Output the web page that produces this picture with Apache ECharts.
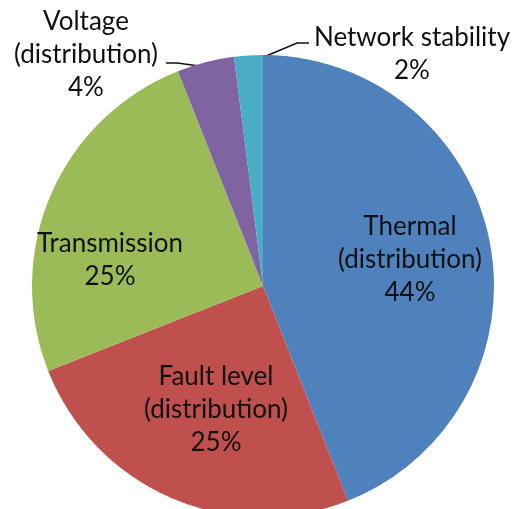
<!DOCTYPE html>
<html>
<head>
<meta charset="utf-8">
<script src="https://cdn.jsdelivr.net/npm/echarts@6/dist/echarts.min.js"></script>
<style>
html,body{margin:0;padding:0;background:#fff;}
#chart{width:517px;height:509px;}
</style>
</head>
<body>
<div id="chart"></div>
<script>
var categories = ['Thermal\n(distribution)', 'Fault level\n(distribution)', 'Transmission', 'Voltage\n(distribution)', 'Network stability'];
var shares = [44, 25, 25, 4, 2];
var colors = ['#4F81BD', '#C0504D', '#9BBB59', '#8064A2', '#4BACC6'];

// label anchor positions (centre of text block), and leader line points
var labelPos = [[410, 260], [216, 410], [110, 260], [86, 55], [412, 54]];
var leaderLines = {
  3: [[207, 67], [177, 63], [166, 63]],
  4: [[252, 62], [297, 43], [309, 43]]
};

var chart = echarts.init(document.getElementById('chart'), null, {renderer: 'canvas'});
var data = categories.map(function (c, i) {
  var outside = (i === 3 || i === 4);
  return {
    name: c,
    value: shares[i],
    itemStyle: {color: colors[i]},
    label: {position: outside ? 'outside' : 'inside'},
    labelLine: {show: outside}
  };
});

chart.setOption({
  animation: false,
  series: [{
    type: 'pie',
    center: [263, 286],
    radius: 231,
    startAngle: 90,
    clockwise: true,
    data: data,
    itemStyle: {borderWidth: 0},
    label: {
      show: true,
      formatter: function (p) { return p.name + '\n' + p.value + '%'; },
      fontFamily: 'Lato',
      fontSize: 26,
      lineHeight: 33,
      color: '#111',
      align: 'center',
      width: 260,
      overflow: 'none'
    },
    labelLine: {
      show: false,
      lineStyle: {color: '#111', width: 1.5}
    },
    labelLayout: function (params) {
      var i = params.dataIndex;
      var res = {x: labelPos[i][0], y: labelPos[i][1], align: 'center', verticalAlign: 'middle'};
      if (leaderLines[i]) res.labelLinePoints = leaderLines[i];
      return res;
    }
  }]
});
</script>
</body>
</html>
